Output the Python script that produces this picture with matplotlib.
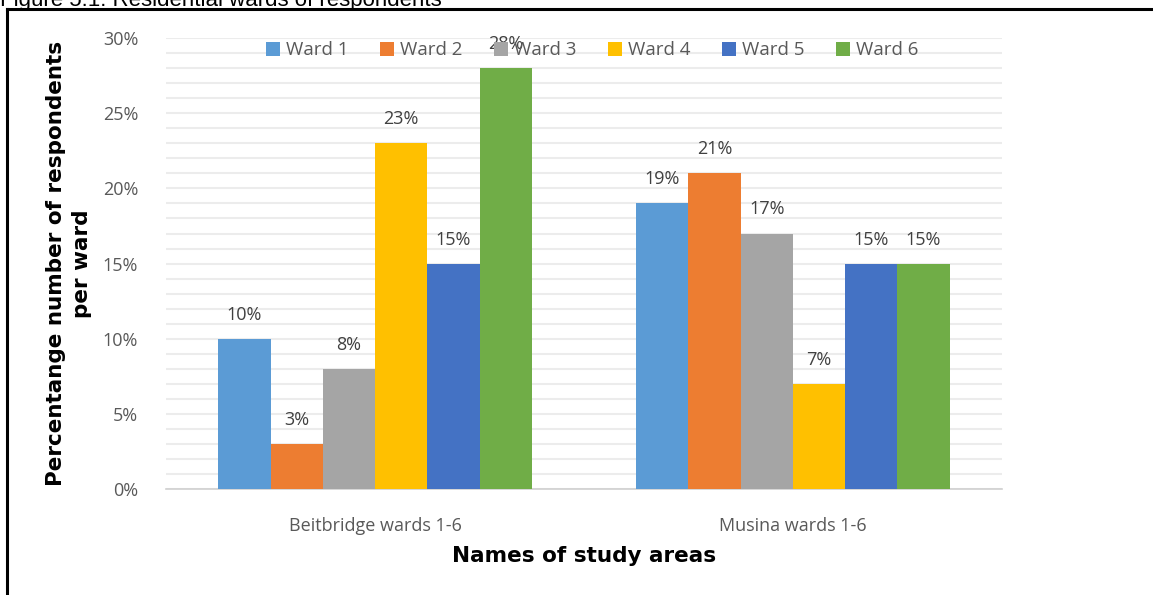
import matplotlib.pyplot as plt
import numpy as np
from matplotlib.ticker import MultipleLocator, PercentFormatter

areas = ["Beitbridge wards 1-6", "Musina wards 1-6"]
wards = ["Ward 1", "Ward 2", "Ward 3", "Ward 4", "Ward 5", "Ward 6"]
beitbridge = [10, 3, 8, 23, 15, 28]
musina = [19, 21, 17, 7, 15, 15]
colors = ["#5b9bd5", "#ed7d31", "#a5a5a5", "#ffc000", "#4472c4", "#70ad47"]

fig = plt.figure(figsize=(11.53, 5.95), dpi=100)
ax = fig.add_axes([0.144, 0.178, 0.725, 0.758])

x = np.arange(len(areas))
w = 0.125
for i, ward in enumerate(wards):
    vals = [beitbridge[i], musina[i]]
    pos = x - 2.5 * w + i * w
    ax.bar(pos, vals, w, color=colors[i], label=ward, zorder=3)
    for p, v in zip(pos, vals):
        ax.text(p, v + 1.0, f"{v}%", ha="center", va="bottom",
                fontsize=13, color="#404040", family="Open Sans", zorder=4)

ax.set_xlim(-0.5, 1.5)
ax.set_ylim(0, 30)
ax.yaxis.set_major_locator(MultipleLocator(5))
ax.yaxis.set_minor_locator(MultipleLocator(1))
ax.yaxis.set_major_formatter(PercentFormatter(decimals=0))
ax.grid(axis="y", which="both", color="#ececec", linewidth=1.5, zorder=0)
for s in ["top", "right", "left"]:
    ax.spines[s].set_visible(False)
ax.spines["bottom"].set_color("#d0d0d0")
ax.spines["bottom"].set_linewidth(1.2)
ax.tick_params(axis="both", which="both", length=0)
ax.tick_params(axis="y", pad=20, labelsize=13, labelcolor="#595959")
ax.tick_params(axis="x", pad=20, labelsize=13, labelcolor="#595959")
for t in ax.get_yticklabels() + ax.get_xticklabels():
    t.set_family("Open Sans")
ax.set_xticks(x)
ax.set_xticklabels(areas)

ax.set_xlabel("Names of study areas", fontsize=15.5, fontweight="bold", labelpad=8)
ax.set_ylabel("Percentange number of respondents\nper ward", fontsize=15.5,
              fontweight="bold", labelpad=8, linespacing=1.35)

leg = ax.legend(loc="upper center", bbox_to_anchor=(0.51, 1.03), ncol=6,
                frameon=False, fontsize=13.5, handlelength=0.75, handleheight=0.75,
                handletextpad=0.3, columnspacing=1.7)
for t in leg.get_texts():
    t.set_color("#595959")
    t.set_family("Open Sans")

fig.text(0.0, 1 - 6 / 595, "Figure 5.1: Residential wards of respondents",
         fontsize=16, family="Liberation Sans", va="baseline", ha="left")

# border round the chart area
fig.add_artist(plt.Line2D([7 / 1153, 7 / 1153], [0, 1 - 9 / 595],
                          transform=fig.transFigure, color="black", linewidth=2.2))
fig.add_artist(plt.Line2D([7 / 1153, 1], [1 - 9 / 595, 1 - 9 / 595],
                          transform=fig.transFigure, color="black", linewidth=2.2))

fig.savefig("out.png", dpi=100)
